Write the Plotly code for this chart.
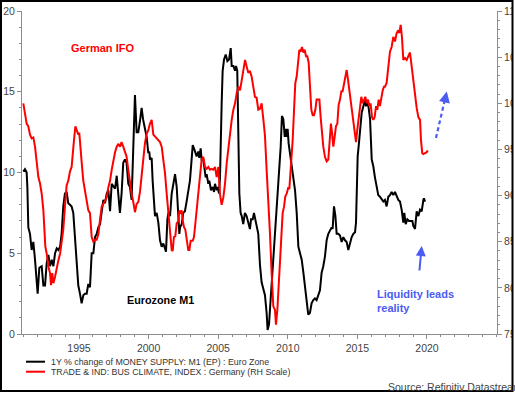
import plotly.graph_objects as go

# ---- data ----
m1_dates = [1991.00,1991.12,1991.24,1991.29,1991.36,1991.48,1991.60,1991.72,1991.84,1991.96,
 1992.03,1992.15,1992.32,1992.44,1992.56,1992.68,1992.80,1992.92,1993.04,1993.16,1993.28,1993.40,
 1993.52,1993.64,1993.75,1993.87,1993.99,1994.11,1994.23,1994.35,1994.47,1994.59,1994.71,1994.83,
 1994.95,1995.07,1995.19,1995.31,1995.43,1995.55,1995.67,1995.79,1995.84,1995.91,1996.03,1996.15,
 1996.27,1996.39,1996.51,1996.63,1996.75,1996.87,1996.99,1997.11,1997.23,1997.35,1997.47,1997.59,
 1997.71,1997.83,1997.94,1998.06,1998.18,1998.30,1998.42,1998.54,1998.66,1998.78,1998.90,1999.02,
 1999.14,1999.26,1999.38,1999.50,1999.60,1999.74,1999.86,1999.98,2000.05,2000.10,2000.22,2000.29,
 2000.39,2000.46,2000.58,2000.70,2000.82,2000.94,2001.06,2001.18,2001.25,2001.35,2001.42,2001.54,
 2001.66,2001.78,2001.90,2002.02,2002.09,2002.14,2002.21,2002.26,2002.38,2002.49,2002.61,2002.73,
 2002.85,2002.97,2003.09,2003.17,2003.26,2003.33,2003.45,2003.57,2003.64,2003.74,2003.81,2003.93,
 2004.00,2004.10,2004.17,2004.29,2004.36,2004.41,2004.48,2004.60,2004.70,2004.77,2004.89,2004.96,
 2005.06,2005.13,2005.20,2005.25,2005.32,2005.42,2005.54,2005.66,2005.78,2005.90,2005.97,2006.09,
 2006.21,2006.28,2006.37,2006.45,2006.52,2006.61,2006.69,2006.80,2006.92,2007.04,2007.16,2007.28,
 2007.36,2007.48,2007.57,2007.64,2007.76,2007.88,2008.00,2008.12,2008.24,2008.36,2008.48,2008.55,
 2008.65,2008.72,2008.84,2008.96,2009.08,2009.20,2009.32,2009.39,2009.49,2009.58,2009.68,2009.78,
 2009.85,2009.92,2009.99,2010.06,2010.16,2010.28,2010.40,2010.52,2010.64,2010.76,2010.88,2011.00,
 2011.12,2011.24,2011.36,2011.47,2011.59,2011.71,2011.83,2011.95,2012.07,2012.19,2012.31,2012.43,
 2012.55,2012.67,2012.79,2012.91,2013.03,2013.15,2013.22,2013.32,2013.42,2013.51,2013.63,2013.75,
 2013.87,2013.99,2014.11,2014.23,2014.35,2014.47,2014.59,2014.71,2014.83,2014.90,2014.95,2015.02,
 2015.11,2015.19,2015.31,2015.43,2015.55,2015.62,2015.71,2015.81,2015.91,2016.03,2016.14,2016.26,
 2016.38,2016.50,2016.62,2016.74,2016.86,2016.98,2017.10,2017.22,2017.34,2017.46,2017.58,2017.70,
 2017.82,2017.94,2018.06,2018.18,2018.30,2018.37,2018.47,2018.59,2018.71,2018.83,2018.95,2019.02,
 2019.14,2019.26,2019.38,2019.50,2019.62,2019.74,2019.78,2019.86]
m1_values = [10.05,10.2,10.0,9.1,6.6,6.2,5.2,5.7,4.6,3.2,
 2.5,4.1,4.2,3.0,3.0,4.4,4.9,4.2,4.6,4.2,5.0,5.3,
 5.2,5.4,6.2,7.9,8.7,8.8,8.1,8.0,7.9,7.5,6.0,4.4,
 3.0,2.5,1.9,2.4,2.5,2.5,3.1,2.9,3.5,5.0,5.0,6.0,
 6.2,6.6,6.8,7.5,8.3,8.1,8.7,8.9,7.6,9.3,9.1,9.0,
 9.8,8.3,7.5,8.7,10.6,10.8,10.6,9.3,9.1,8.3,11.4,14.8,
 12.5,12.5,13.2,14.0,13.3,12.8,12.2,11.2,11.3,10.8,10.9,9.5,
 7.9,7.3,7.5,6.9,5.8,5.4,5.6,5.2,5.1,7.1,7.5,7.3,
 8.7,9.3,9.9,9.1,7.9,6.9,6.2,6.6,6.8,7.5,7.6,8.2,
 8.9,9.5,10.8,11.7,11.5,11.3,11.0,11.3,10.9,11.5,10.8,10.8,
 10.4,9.7,9.9,9.3,9.5,9.1,8.9,9.1,8.8,9.3,8.9,9.1,
 8.7,9.7,11.6,14.3,16.3,17.0,17.3,16.9,17.0,17.7,16.6,16.6,
 16.3,16.6,16.3,12.2,8.7,7.5,7.3,6.8,7.5,7.3,6.9,6.5,
 7.1,7.1,7.5,7.2,6.8,6.2,4.3,3.2,2.8,2.4,1.3,0.25,
 0.6,1.5,2.9,4.4,6.0,7.3,9.1,9.9,11.6,13.5,13.3,12.2,
 12.7,12.2,12.7,11.8,11.2,10.6,9.9,8.9,7.5,5.4,5.0,4.6,
 3.8,2.9,1.7,1.2,1.3,1.9,2.1,2.2,2.1,2.4,2.7,3.8,
 4.2,4.8,5.8,6.2,6.4,6.6,6.5,7.9,7.3,6.2,6.2,6.1,
 5.7,6.0,5.8,5.7,5.2,5.6,6.0,6.2,6.3,6.9,8.5,11.0,
 11.8,12.7,13.7,14.1,14.5,14.1,14.4,14.0,13.3,10.8,10.4,9.7,
 9.1,8.6,8.5,8.3,8.2,8.3,7.9,8.5,8.6,8.8,8.6,8.8,
 8.5,8.3,8.2,7.7,6.9,7.5,6.8,7.1,7.0,7.0,7.0,6.7,
 6.5,7.6,7.3,7.7,7.6,8.3,8.4,8.2]

ifo_dates = [1991.00,1991.12,1991.24,1991.36,1991.48,1991.60,1991.72,1991.84,1991.96,1992.08,
 1992.20,1992.32,1992.44,1992.51,1992.58,1992.68,1992.80,1992.92,1992.99,1993.08,1993.16,1993.28,
 1993.40,1993.52,1993.64,1993.75,1993.87,1993.99,1994.11,1994.23,1994.35,1994.47,1994.54,1994.64,
 1994.74,1994.83,1994.95,1995.02,1995.12,1995.22,1995.31,1995.43,1995.55,1995.67,1995.79,1995.91,
 1996.03,1996.15,1996.27,1996.39,1996.51,1996.63,1996.75,1996.87,1996.99,1997.11,1997.23,1997.35,
 1997.47,1997.59,1997.71,1997.83,1997.94,1998.06,1998.18,1998.30,1998.42,1998.54,1998.66,1998.78,
 1998.90,1999.02,1999.14,1999.26,1999.38,1999.50,1999.62,1999.74,1999.86,1999.98,2000.10,2000.22,
 2000.34,2000.46,2000.58,2000.70,2000.82,2000.94,2001.06,2001.18,2001.30,2001.42,2001.54,2001.66,
 2001.73,2001.82,2001.92,2002.02,2002.14,2002.21,2002.30,2002.38,2002.45,2002.54,2002.64,2002.73,
 2002.85,2002.93,2003.02,2003.17,2003.26,2003.36,2003.45,2003.57,2003.69,2003.81,2003.93,2004.05,
 2004.17,2004.29,2004.41,2004.53,2004.65,2004.77,2004.89,2005.01,2005.13,2005.25,2005.37,2005.49,
 2005.61,2005.73,2005.85,2005.97,2006.09,2006.21,2006.33,2006.45,2006.57,2006.69,2006.81,2006.93,
 2007.04,2007.16,2007.28,2007.40,2007.52,2007.64,2007.76,2007.88,2008.00,2008.12,2008.24,2008.36,
 2008.48,2008.60,2008.72,2008.84,2008.96,2009.08,2009.15,2009.25,2009.34,2009.44,2009.56,2009.63,
 2009.73,2009.82,2009.92,2010.04,2010.11,2010.21,2010.28,2010.35,2010.45,2010.54,2010.64,2010.73,
 2010.83,2010.92,2011.02,2011.12,2011.21,2011.31,2011.40,2011.50,2011.60,2011.69,2011.79,2011.88,
 2011.98,2012.07,2012.17,2012.27,2012.36,2012.46,2012.55,2012.67,2012.79,2012.91,2013.03,2013.10,
 2013.18,2013.27,2013.37,2013.46,2013.56,2013.65,2013.75,2013.85,2013.94,2014.04,2014.13,2014.23,
 2014.33,2014.42,2014.52,2014.61,2014.71,2014.80,2014.90,2014.99,2015.09,2015.19,2015.28,2015.38,
 2015.47,2015.57,2015.67,2015.76,2015.86,2015.95,2016.05,2016.14,2016.24,2016.34,2016.43,2016.53,
 2016.62,2016.72,2016.82,2016.91,2016.98,2017.10,2017.22,2017.34,2017.46,2017.58,2017.70,2017.82,
 2017.94,2018.01,2018.11,2018.20,2018.30,2018.42,2018.54,2018.66,2018.78,2018.90,2019.02,2019.14,
 2019.26,2019.38,2019.50,2019.57,2019.66,2019.74,2019.86,2019.98,2020.05]
ifo_values = [100.0,98.9,97.8,97.5,96.6,96.2,96.3,95.3,93.9,92.0,
 91.3,90.2,88.4,86.3,84.5,83.7,82.3,81.6,80.3,81.6,80.5,81.2,
 82.3,83.0,83.7,84.8,86.3,88.8,91.1,91.6,92.6,93.1,94.6,96.0,
 97.5,97.1,96.6,96.8,94.6,93.1,91.6,90.6,89.5,88.4,88.1,85.5,
 85.0,85.2,85.2,85.8,87.4,88.8,89.1,89.5,89.8,90.9,91.6,92.8,
 93.9,94.7,95.3,95.6,95.3,95.8,95.3,94.6,94.2,92.8,91.3,90.2,
 89.3,88.2,89.1,89.3,90.4,92.4,94.6,95.7,96.7,97.1,97.8,98.2,
 96.6,96.4,96.2,96.0,95.8,95.3,93.9,92.4,90.2,88.1,86.6,84.1,
 84.0,85.5,85.6,87.0,87.2,88.4,88.0,88.4,87.3,86.6,86.3,85.5,
 84.1,84.1,85.1,85.1,85.5,87.0,88.4,90.2,92.0,93.9,94.2,93.1,
 92.9,93.1,92.8,92.9,92.8,93.1,92.0,93.1,90.1,89.0,89.8,91.3,
 93.5,95.3,97.1,98.2,99.3,100.0,101.1,101.8,101.4,102.5,103.6,104.7,
 104.0,103.3,103.5,102.9,101.8,100.7,100.6,99.3,99.4,100.0,98.3,96.5,
 92.8,89.9,85.9,81.6,78.0,77.6,76.0,77.6,79.8,82.7,85.9,88.1,
 88.8,89.9,90.2,90.9,90.7,92.8,94.6,96.0,99.3,102.2,102.9,104.0,
 105.8,105.6,106.1,105.5,105.8,105.1,105.1,104.4,101.8,99.3,98.7,98.7,
 99.3,100.4,100.4,100.4,98.5,96.4,95.3,94.2,93.7,93.9,96.0,97.8,
 96.8,95.3,96.4,97.5,97.8,99.8,100.4,101.3,101.3,102.2,103.1,103.6,
 102.5,101.4,100.0,99.3,98.2,96.7,95.8,97.1,98.2,99.5,100.7,100.0,
 100.4,100.7,100.0,100.4,99.7,100.0,98.5,98.2,98.5,99.7,99.3,100.4,
 99.7,100.7,101.4,101.8,101.8,102.2,104.0,105.6,106.1,107.2,106.7,107.6,
 107.9,107.6,108.5,107.2,104.7,104.9,104.7,105.1,105.5,104.0,102.4,101.1,
 99.5,98.5,98.2,96.0,94.6,94.5,94.6,94.7,94.9]

m1_name = "1Y % change of MONEY SUPPLY: M1 (EP) : Euro Zone"
ifo_name = "TRADE & IND: BUS CLIMATE, INDEX : Germany (RH Scale)"

left_ticks = [0, 5, 10, 15, 20]
right_ticks = [75, 80, 85, 90, 95, 100, 105, 110]
year_ticks = [1995, 2000, 2005, 2010, 2015, 2020]

FONT = "Liberation Sans, Arial, sans-serif"
RED = "#ff0000"
BLUE = "#4a5cf2"
AX = "#8c8c8c"

fig = go.Figure()
fig.add_trace(go.Scatter(x=m1_dates, y=m1_values, name=m1_name, mode="lines",
                         line=dict(color="#000000", width=2), showlegend=False))
fig.add_trace(go.Scatter(x=ifo_dates, y=ifo_values, name=ifo_name, mode="lines",
                         line=dict(color=RED, width=2), yaxis="y2", showlegend=False))

tickfont = dict(family=FONT, size=10.5, color="#444444")
common = dict(showgrid=False, zeroline=False, showline=True, linecolor=AX, linewidth=1,
              ticks="outside", ticklen=4, tickcolor=AX, tickwidth=1, tickfont=tickfont,
              automargin=False)

fig.update_layout(
    width=515, height=393, autosize=False,
    margin=dict(l=22, r=18, t=11, b=59),
    paper_bgcolor="white", plot_bgcolor="white",
    font=dict(family=FONT),
    xaxis=dict(range=[1990.905, 2025.03], tickmode="array", tickvals=year_ticks,
               minor=dict(dtick=1, tick0=1995, ticks="outside", ticklen=2, tickcolor=AX),
               **common),
    yaxis=dict(range=[0, 20], tickmode="array", tickvals=left_ticks,
               minor=dict(dtick=1, tick0=0, ticks="outside", ticklen=2, tickcolor=AX),
               **common),
    yaxis2=dict(range=[75, 110], tickmode="array", tickvals=right_ticks, overlaying="y",
                side="right", anchor="x",
                minor=dict(dtick=1, tick0=75, ticks="outside", ticklen=2, tickcolor=AX),
                **common),
)

def px(x):
    return (x - 22) / 475.0

def py(y):
    return (334 - y) / 323.0

# text labels
fig.add_annotation(x=px(102), y=py(48), xref="paper", yref="paper", text="<b>German IFO</b>",
                   showarrow=False, xanchor="center", yanchor="middle",
                   font=dict(family=FONT, size=11, color=RED))
fig.add_annotation(x=px(160), y=py(300), xref="paper", yref="paper", text="<b>Eurozone M1</b>",
                   showarrow=False, xanchor="center", yanchor="middle",
                   font=dict(family=FONT, size=10.8, color="#000000"))
fig.add_annotation(x=px(375), y=py(300.5), xref="paper", yref="paper",
                   text="<b>Liquidity leads<br>reality</b>", showarrow=False, align="left",
                   xanchor="left", yanchor="middle",
                   font=dict(family=FONT, size=11, color=BLUE))

# solid arrow
fig.add_annotation(x=px(421.7), y=py(246), xref="paper", yref="paper", text="",
                   showarrow=True, arrowhead=2, arrowsize=1, arrowwidth=2, arrowcolor=BLUE,
                   ax=-2.4, ay=26)
# dashed arrow
fig.add_shape(type="line", xref="paper", yref="paper", x0=px(436), y0=py(138),
              x1=px(445), y1=py(99), line=dict(color=BLUE, width=2.2, dash="4px,3px"))
fig.add_annotation(x=px(446.8), y=py(91.5), xref="paper", yref="paper", text="",
                   showarrow=True, arrowhead=2, arrowsize=1, arrowwidth=2.2, arrowcolor=BLUE,
                   ax=-2, ay=9)

# legend drawn manually
for yy, col, name in [(361.7, "#000000", m1_name), (371.7, RED, ifo_name)]:
    fig.add_shape(type="line", xref="paper", yref="paper", x0=px(26), x1=px(45),
                  y0=py(yy), y1=py(yy), line=dict(color=col, width=2))
    fig.add_annotation(x=px(49), y=py(yy), xref="paper", yref="paper", text=name,
                       showarrow=False, xanchor="left", yanchor="middle",
                       font=dict(family=FONT, size=8.8, color="#333333"))

fig.add_annotation(x=px(386), y=py(386.5), xref="paper", yref="paper",
                   text="Source: Refinitiv Datastream", showarrow=False, xanchor="left",
                   yanchor="middle", font=dict(family=FONT, size=10.5, color="#444444"))

# outer frame
fig.add_shape(type="rect", xref="paper", yref="paper", x0=px(513), x1=px(540),
              y0=py(400), y1=py(-10), line=dict(width=0), fillcolor="white", layer="above")
fig.add_shape(type="rect", xref="paper", yref="paper", x0=px(1), x1=px(512.5),
              y0=py(391), y1=py(1), line=dict(color="#000000", width=2), layer="above")

fig.write_html("out.html", config={"displayModeBar": False},
               post_script="document.body.style.margin='0';")
